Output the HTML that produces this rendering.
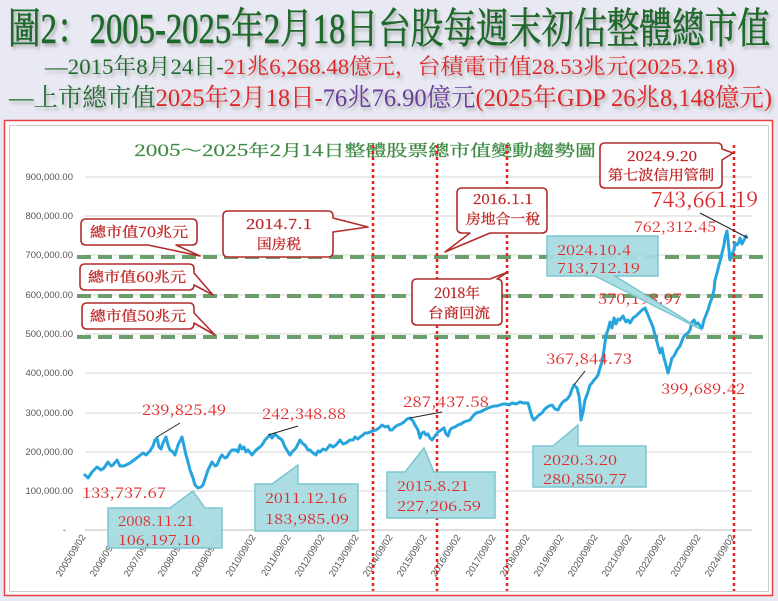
<!DOCTYPE html>
<html><head><meta charset="utf-8"><style>
html,body{margin:0;padding:0;background:#e9e9f3;}
svg{display:block}
.s{font-family:"Liberation Serif","Noto Serif CJK SC",serif;}
.n{font-family:"Noto Serif CJK SC","Liberation Serif",serif;fill:#e02828;}
.ax{font-family:"Liberation Sans",sans-serif;font-size:9.5px;fill:#555;}
</style></head><body>
<svg width="778" height="601" viewBox="0 0 778 601" xmlns="http://www.w3.org/2000/svg">
<defs><filter id="sh" x="-5%" y="-20%" width="110%" height="150%"><feDropShadow dx="2" dy="3" stdDeviation="1.5" flood-color="#888" flood-opacity="0.6"/></filter></defs>
<rect width="778" height="601" fill="#e9e9f3"/>
<g class="s" filter="url(#sh)">
<text x="8" y="43" font-size="42" fill="#1d6a2c" stroke="#1d6a2c" stroke-width="0.6" textLength="762" lengthAdjust="spacingAndGlyphs">圖2：2005-2025年2月18日台股每週末初估整體總市值</text>
<text x="45" y="74" font-size="22" textLength="690" lengthAdjust="spacingAndGlyphs"><tspan fill="#1d6a2c">—2015年8月24日-</tspan><tspan fill="#e02828">21兆6,268.48億元，台積電市值28.53兆元(2025.2.18)</tspan></text>
<text x="9" y="106" font-size="25" textLength="763" lengthAdjust="spacingAndGlyphs"><tspan fill="#1d6a2c">—上市總市值</tspan><tspan fill="#e02828">2025年2月18日-</tspan><tspan fill="#6a3a9a">76兆76.90億元</tspan><tspan fill="#e02828">(2025年GDP 26兆8,148億元)</tspan></text>
</g>
<rect x="4.5" y="120.5" width="768" height="475" fill="#fff" stroke="#e84040" stroke-width="1.5"/>
<rect x="9.5" y="125.5" width="759" height="466" fill="#fff" stroke="#ccc" stroke-width="1"/>
<text class="n" x="134" y="156" font-size="16" style="fill:#3e8a45" stroke="#3e8a45" stroke-width="0.3" textLength="462" lengthAdjust="spacingAndGlyphs">2005～2025年2月14日整體股票總市值變動趨勢圖</text>
<g stroke="#d4d4d4" stroke-width="1">
<line x1="85" x2="752" y1="177" y2="177"/><line x1="85" x2="752" y1="216" y2="216"/><line x1="85" x2="752" y1="255" y2="255"/><line x1="85" x2="752" y1="295" y2="295"/><line x1="85" x2="752" y1="334" y2="334"/><line x1="85" x2="752" y1="373" y2="373"/><line x1="85" x2="752" y1="413" y2="413"/><line x1="85" x2="752" y1="452" y2="452"/><line x1="85" x2="752" y1="491" y2="491"/><line x1="85" x2="752" y1="530" y2="530" stroke="#bbb"/>
</g>
<g class="ax" text-anchor="end">
<text x="73" y="180">900,000.00</text><text x="73" y="219">800,000.00</text><text x="73" y="258">700,000.00</text><text x="73" y="298">600,000.00</text><text x="73" y="337">500,000.00</text><text x="73" y="376">400,000.00</text><text x="73" y="416">300,000.00</text><text x="73" y="455">200,000.00</text><text x="73" y="494">100,000.00</text><text x="66" y="533">-</text>
</g>
<g class="ax" text-anchor="end" font-size="9">
<text transform="translate(86,537) rotate(-58)">2005/09/02</text>
<text transform="translate(120,537) rotate(-58)">2006/09/02</text>
<text transform="translate(154,537) rotate(-58)">2007/09/02</text>
<text transform="translate(188,537) rotate(-58)">2008/09/02</text>
<text transform="translate(222,537) rotate(-58)">2009/09/02</text>
<text transform="translate(256,537) rotate(-58)">2010/09/02</text>
<text transform="translate(291,537) rotate(-58)">2011/09/02</text>
<text transform="translate(325,537) rotate(-58)">2012/09/02</text>
<text transform="translate(359,537) rotate(-58)">2013/09/02</text>
<text transform="translate(393,537) rotate(-58)">2014/09/02</text>
<text transform="translate(427,537) rotate(-58)">2015/09/02</text>
<text transform="translate(461,537) rotate(-58)">2016/09/02</text>
<text transform="translate(496,537) rotate(-58)">2017/09/02</text>
<text transform="translate(530,537) rotate(-58)">2018/09/02</text>
<text transform="translate(564,537) rotate(-58)">2019/09/02</text>
<text transform="translate(598,537) rotate(-58)">2020/09/02</text>
<text transform="translate(632,537) rotate(-58)">2021/09/02</text>
<text transform="translate(666,537) rotate(-58)">2022/09/02</text>
<text transform="translate(701,537) rotate(-58)">2023/09/02</text>
<text transform="translate(735,537) rotate(-58)">2024/09/02</text>
</g>
<g stroke="#6a9e6a" stroke-width="4" stroke-dasharray="14 7">
<line x1="77" x2="770" y1="257" y2="257"/><line x1="77" x2="770" y1="296" y2="296"/><line x1="77" x2="770" y1="337" y2="337"/>
</g>
<g stroke="#e82020" stroke-width="2.5" stroke-dasharray="3 3">
<line x1="373" x2="373" y1="145" y2="591"/><line x1="437" x2="437" y1="145" y2="591"/><line x1="507" x2="507" y1="145" y2="591"/><line x1="734" x2="734" y1="145" y2="591"/>
</g>
<polyline fill="none" stroke="#25a4dd" stroke-width="3" stroke-linejoin="round" points="84,474 88,478 92,472 97,467 101,470 104,468 108,462 111,466 113,465 117,460 120,466 124,466 130,463 134,460 138,457 143,453 146,455 150,451 153,446 155,440 157,438 159,447 161,449 163,443 166,437 168,445 170,450 173,452 175,455 178,445 182,437 184,446 186,455 188,462 190,470 193,478 195,485 198,488 201,487 203,485 206,476 208,470 210,466 212,462 215,466 217,465 220,458 222,455 225,458 227,457 230,452 232,450 236,450 238,452 240,445 242,449 244,447 246,452 248,450 252,455 256,450 260,447 262,445 265,440 268,437 270,435 272,438 275,434 278,437 282,440 285,447 288,452 290,455 292,452 296,448 300,440 303,444 305,445 308,450 310,450 313,453 316,455 318,451 320,452 323,449 326,450 330,445 333,447 336,445 340,440 343,444 346,443 350,440 353,440 355,437 358,439 360,437 363,435 365,433 368,433 370,432 373,431 376,430 379,428 382,425 385,427 388,426 390,430 392,430 395,427 398,425 401,424 404,422 407,419 410,418 413,421 415,425 418,430 420,438 422,433 424,432 426,435 428,434 430,438 432,440 435,436 438,432 441,430 444,428 446,434 448,436 450,430 452,428 455,427 458,425 461,424 464,422 467,421 470,420 473,416 476,413 480,412 484,410 488,408 491,407 494,406 497,406 500,405 503,404 506,404 509,405 512,403 516,404 520,402 524,403 528,403 530,410 532,417 534,420 536,418 539,415 542,413 544,410 546,408 549,406 552,405 555,409 558,410 560,406 562,403 564,401 566,400 568,398 570,395 572,389 574,385 576,387 577,388 579,396 580,404 581,420 583,412 585,400 588,392 590,385 592,383 594,380 596,378 598,375 600,368 602,362 604,350 606,335 608,330 610,322 612,328 614,318 616,324 618,319 620,320 623,316 626,322 628,320 630,323 633,318 636,316 638,314 640,312 642,310 645,308 648,315 650,320 653,327 655,335 657,342 660,353 662,348 664,358 666,365 668,373 670,366 672,358 674,356 677,350 680,346 683,338 685,335 688,333 690,330 692,322 694,320 696,324 698,323 700,326 702,328 704,320 706,315 708,310 710,303 712,298 714,290 715,280 717,273 719,265 721,258 722,253 724,245 725,238 727,231 728,240 729,250 730,260 732,254 734,250 735,243 737,245 739,242 740,238 742,244 744,240 746,236 747,235"/>
<g stroke="#222" stroke-width="1" fill="none">
<line x1="157" y1="437" x2="180" y2="423"/><line x1="268" y1="435" x2="298" y2="426"/><line x1="410" y1="418" x2="442" y2="412"/><line x1="574" y1="385" x2="585" y2="371"/><line x1="700" y1="213" x2="748" y2="238"/>
</g>
<g class="n">
<text x="142" y="415" font-size="15" textLength="84" lengthAdjust="spacingAndGlyphs">239,825.49</text>
<text x="262" y="419" font-size="15" textLength="84" lengthAdjust="spacingAndGlyphs">242,348.88</text>
<text x="403" y="407" font-size="15" textLength="86" lengthAdjust="spacingAndGlyphs">287,437.58</text>
<text x="546" y="364" font-size="15" textLength="86" lengthAdjust="spacingAndGlyphs">367,844.73</text>
<text x="598" y="304" font-size="15" textLength="84" lengthAdjust="spacingAndGlyphs">570,198.97</text>
<text x="661" y="394" font-size="15" textLength="84" lengthAdjust="spacingAndGlyphs">399,689.42</text>
<text x="82" y="498" font-size="15" textLength="84" lengthAdjust="spacingAndGlyphs">133,737.67</text>
<text x="634" y="232" font-size="15" textLength="82" lengthAdjust="spacingAndGlyphs">762,312.45</text>
<text x="651" y="207" font-size="21" textLength="107" lengthAdjust="spacingAndGlyphs">743,661.19</text>
</g>
<g fill="#a6dbe1" stroke="#7cc6cf" stroke-width="1.5" fill-opacity="0.95">
<path d="M108,508 H170 L193,491 L205,508 H222 V548 H108 Z"/>
<path d="M255,484 H272 L298,465 V484 H358 V531 H255 Z"/>
<path d="M387,472 H405 L424,448 L434,472 H495 V518 H387 Z"/>
<path d="M533,446 H553 L578,425 V446 H646 V487 H533 Z"/>
<path d="M547,236 H658 V276 H615 L702,330 L595,276 H547 Z"/>
</g>
<g class="n" font-size="14">
<text x="118" y="526" textLength="76" lengthAdjust="spacingAndGlyphs">2008.11.21</text>
<text x="118" y="545" textLength="82" lengthAdjust="spacingAndGlyphs">106,197.10</text>
<text x="265" y="503" textLength="82" lengthAdjust="spacingAndGlyphs">2011.12.16</text>
<text x="265" y="524" textLength="84" lengthAdjust="spacingAndGlyphs">183,985.09</text>
<text x="397" y="491" textLength="72" lengthAdjust="spacingAndGlyphs">2015.8.21</text>
<text x="397" y="511" textLength="84" lengthAdjust="spacingAndGlyphs">227,206.59</text>
<text x="543" y="465" textLength="74" lengthAdjust="spacingAndGlyphs">2020.3.20</text>
<text x="543" y="484" textLength="84" lengthAdjust="spacingAndGlyphs">280,850.77</text>
<text x="557" y="255" textLength="74" lengthAdjust="spacingAndGlyphs">2024.10.4</text>
<text x="557" y="273" textLength="83" lengthAdjust="spacingAndGlyphs">713,712.19</text>
</g>
<g fill="#fff" stroke="#b22c2c" stroke-width="1.6" stroke-linejoin="round">
<path d="M86,219 H192 Q197,219 197,224 V240 Q197,245 192,245 H176 L200,256 L148,245 H86 Q81,245 81,240 V224 Q81,219 86,219 Z"/>
<path d="M85,264 H189 Q194,264 194,269 V273 L213,295 L194,285 Q194,290 189,290 H85 Q80,290 80,285 V269 Q80,264 85,264 Z"/>
<path d="M87,303 H189 Q194,303 194,308 V313 L215,335 L194,323 Q194,329 189,329 H87 Q82,329 82,324 V308 Q82,303 87,303 Z"/>
<path d="M228,211 H328 Q333,211 333,216 V218 L368,227 L333,232 V252 Q333,257 328,257 H228 Q223,257 223,252 V216 Q223,211 228,211 Z"/>
<path d="M462,188 H542 Q547,188 547,193 V228 Q547,233 542,233 H490 L445,252 L470,233 H462 Q457,233 457,228 V193 Q457,188 462,188 Z"/>
<path d="M417,279 H490 L508,272 L497,279 Q502,279 502,284 V320 Q502,325 497,325 H417 Q412,325 412,320 V284 Q412,279 417,279 Z"/>
<path d="M605,143 H717 Q722,143 722,148 V149 L733,153 L722,160 V183 Q722,188 717,188 H605 Q600,188 600,183 V148 Q600,143 605,143 Z"/>
</g>
<g class="n" font-size="14" style="fill:#c02828" stroke="#c02828" stroke-width="0.3">
<text x="90" y="237" textLength="98" lengthAdjust="spacingAndGlyphs">總市值70兆元</text>
<text x="88" y="282" textLength="98" lengthAdjust="spacingAndGlyphs">總市值60兆元</text>
<text x="90" y="321" textLength="96" lengthAdjust="spacingAndGlyphs">總市值50兆元</text>
<text x="246" y="229" textLength="66" lengthAdjust="spacingAndGlyphs">2014.7.1</text>
<text x="257" y="249" textLength="44" lengthAdjust="spacingAndGlyphs">国房税</text>
<text x="473" y="204" textLength="60" lengthAdjust="spacingAndGlyphs">2016.1.1</text>
<text x="466" y="224" textLength="74" lengthAdjust="spacingAndGlyphs">房地合一稅</text>
<text x="434" y="298" textLength="46" lengthAdjust="spacingAndGlyphs">2018年</text>
<text x="428" y="318" textLength="62" lengthAdjust="spacingAndGlyphs">台商回流</text>
<text x="627" y="161" textLength="70" lengthAdjust="spacingAndGlyphs">2024.9.20</text>
<text x="608" y="180" textLength="106" lengthAdjust="spacingAndGlyphs">第七波信用管制</text>
</g>
</svg>
</body></html>
